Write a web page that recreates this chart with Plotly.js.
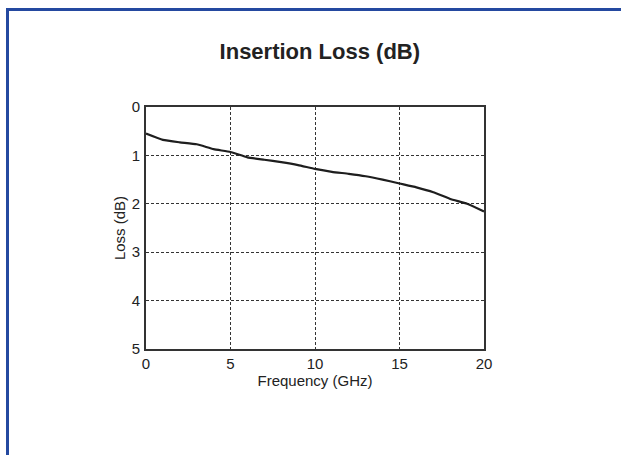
<!DOCTYPE html>
<html>
<head>
<meta charset="utf-8">
<script src="https://cdn.plot.ly/plotly-3.0.1.min.js"></script>
<style>
html,body{margin:0;padding:0;background:#fff;}
#wrap{position:relative;width:621px;height:455px;overflow:hidden;}
#chart{width:621px;height:455px;}
#frame{position:absolute;left:6px;top:8px;width:700px;height:600px;border-left:3px solid #2449a0;border-top:3px solid #2449a0;pointer-events:none;}
</style>
</head>
<body>
<div id="wrap"><div id="chart"></div><div id="frame"></div></div>
<script>
const frequency = [0,1,2,3,4,5,6,7,8,9,10,11,12,13,14,15,16,17,18,19,20];
const lossDb = [0.55,0.68,0.73,0.77,0.87,0.93,1.04,1.09,1.14,1.20,1.28,1.34,1.38,1.43,1.50,1.58,1.66,1.76,1.90,2.00,2.16];
const xTicks = [0,5,10,15,20];
const yTicks = [0,1,2,3,4,5];

const fam = '"Liberation Sans", Arial, sans-serif';

Plotly.newPlot('chart', [{
  x: frequency, y: lossDb, type:'scatter', mode:'lines',
  line:{color:'#1e1e1e', width:2.2, shape:'spline', smoothing:0.4},
  hoverinfo:'skip'
}], {
  width:621, height:455,
  margin:{l:146, r:137, t:107, b:106},
  paper_bgcolor:'#fff', plot_bgcolor:'#fff',
  showlegend:false,
  font:{family:fam, color:'#222', size:14},
  title:{text:'<b>Insertion Loss (dB)</b>', font:{family:fam, size:22, color:'#222'},
         xref:'container', x:0.515, xanchor:'center', yref:'container', y:0.888, yanchor:'middle'},
  xaxis:{range:[0,20], tickvals:xTicks, ticktext:xTicks.map(String), showgrid:true,
         gridcolor:'#333', griddash:'3px,2px', gridwidth:1,
         showline:true, linecolor:'#333', linewidth:2, mirror:true, ticks:'', zeroline:false,
         ticklabelstandoff:0,
         title:{text:'Frequency (GHz)', font:{size:15, color:'#222'}, standoff:0},
         tickfont:{size:15, color:'#222'}},
  yaxis:{range:[5,0], tickvals:yTicks, ticktext:yTicks.map(String), showgrid:true,
         gridcolor:'#333', griddash:'3px,2px', gridwidth:1,
         showline:true, linecolor:'#333', linewidth:2, mirror:true, ticks:'', zeroline:false,
         ticklabelstandoff:1,
         title:{text:'Loss (dB)', font:{size:15, color:'#222'}, standoff:2},
         tickfont:{size:15, color:'#222'}}
}, {displayModeBar:false, staticPlot:true});
</script>
</body>
</html>
